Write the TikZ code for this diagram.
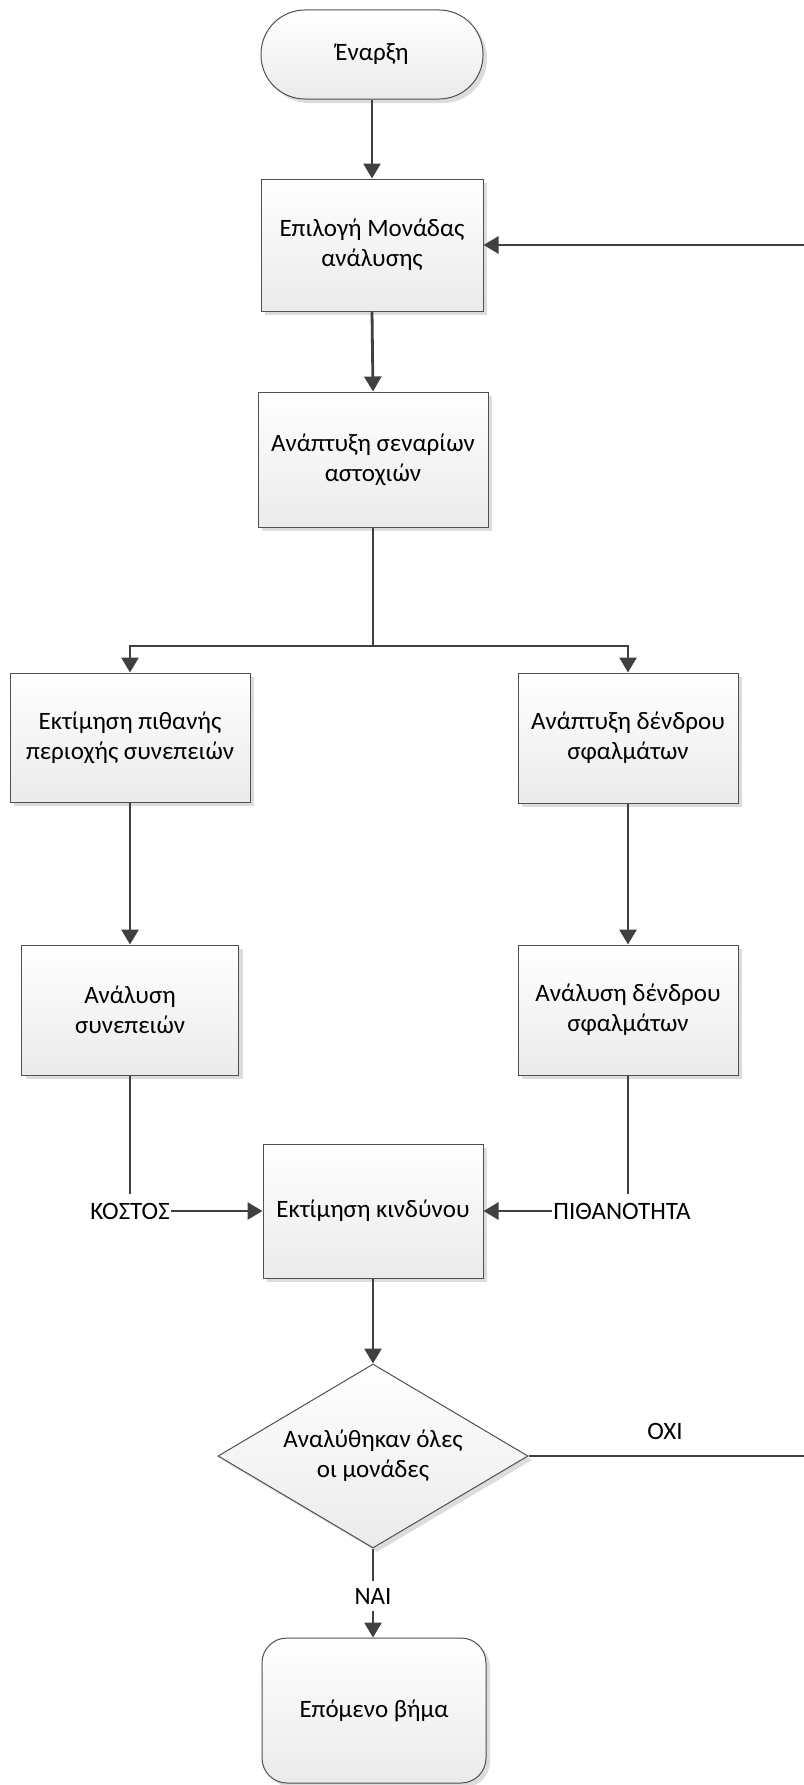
\documentclass[tikz,border=0pt]{standalone}
\usepackage{fontspec}
\setmainfont{Carlito}
\usetikzlibrary{arrows.meta,shapes.geometric,shadows}
\definecolor{edge}{HTML}{404040}
\definecolor{rim}{HTML}{505050}
\definecolor{shadecol}{HTML}{DCDCDC}
\begin{document}
\begin{tikzpicture}[x=1pt,y=-1pt,
  font=\fontsize{25}{30}\selectfont,
  boxbase/.style={draw=rim, line width=1pt, top color=white, bottom color=black!8,
    drop shadow={shadow xshift=4pt, shadow yshift=-4pt, fill=shadecol, opacity=1},
    align=center, inner sep=0pt},
  proc/.style={boxbase, rectangle},
  term/.style={boxbase, rectangle},
  decide/.style={boxbase, diamond, aspect=1.685, minimum width=310pt, minimum height=184pt},
  flow/.style={draw=edge, line width=2.8pt, -{Triangle[length=15pt,width=17pt]}},
  link/.style={draw=edge, line width=2.8pt},
  tag/.style={inner xsep=1pt, inner ysep=9pt}
]
\useasboundingbox (0,0) rectangle (803,1785);

% terminals, process boxes and the decision
\node[term, rounded corners=44pt, minimum width=222pt, minimum height=89pt] (start) at (372,54.5) {Έναρξη};
\node[proc, minimum width=222pt, minimum height=132pt] (b1) at (372,245) {Επιλογή Μονάδας\\ανάλυσης};
\node[proc, minimum width=230pt, minimum height=135pt] (b2) at (373,459.5) {Ανάπτυξη σεναρίων\\αστοχιών};
\node[proc, minimum width=240pt, minimum height=129pt] (b3) at (130,737.5) {Εκτίμηση πιθανής\\περιοχής συνεπειών};
\node[proc, minimum width=220pt, minimum height=130pt] (b4) at (628,738) {Ανάπτυξη δένδρου\\σφαλμάτων};
\node[proc, minimum width=217pt, minimum height=130pt] (b5) at (130,1010) {Ανάλυση\\συνεπειών};
\node[proc, minimum width=220pt, minimum height=130pt] (b6) at (628,1010) {Ανάλυση δένδρου\\σφαλμάτων};
\node[proc, minimum width=220pt, minimum height=134pt] (b7) at (373,1211) {Εκτίμηση κινδύνου};
\node[decide] (dia) at (373,1456) {Αναλύθηκαν όλες\\οι μονάδες};
\node[term, rounded corners=25pt, minimum width=224pt, minimum height=145pt] (end) at (374,1710.5) {Επόμενο βήμα};

% connector labels
\node[tag] (cost) at (130,1211) {ΚΟΣΤΟΣ};
\node[tag] (prob) at (622,1211) {ΠΙΘΑΝΟΤΗΤΑ};
\node (no) at (665,1431) {ΟΧΙ};
\node[inner xsep=1pt, inner ysep=7pt] (yes) at (373,1596) {ΝΑΙ};

\coordinate (fork) at (373,646);
\coordinate (ret) at (812,0);

% connectors
\draw[flow] (start.south) -- (b1.north);
\draw[flow] (b1.south) -- (b2.north);
\draw[link] (b2.south) -- (fork);
\draw[flow] (fork) -| (b3.north);
\draw[flow] (fork) -| (b4.north);
\draw[flow] (b3.south) -- (b5.north);
\draw[flow] (b4.south) -- (b6.north);
\draw[link] (b5.south) -- (cost.north);
\draw[flow] (cost.east) -- (b7.west);
\draw[link] (b6.south) -- (b6.south |- prob.north);
\draw[flow] (prob.west) -- (b7.east);
\draw[flow] (b7.south) -- (dia.north);
\draw[flow] (dia.east) -- (dia.east -| ret) -- (b1.east -| ret) -- (b1.east);
\draw[link] (dia.south) -- (yes.north);
\draw[flow] (yes.south) -- (yes.south |- end.north);
\end{tikzpicture}
\end{document}
